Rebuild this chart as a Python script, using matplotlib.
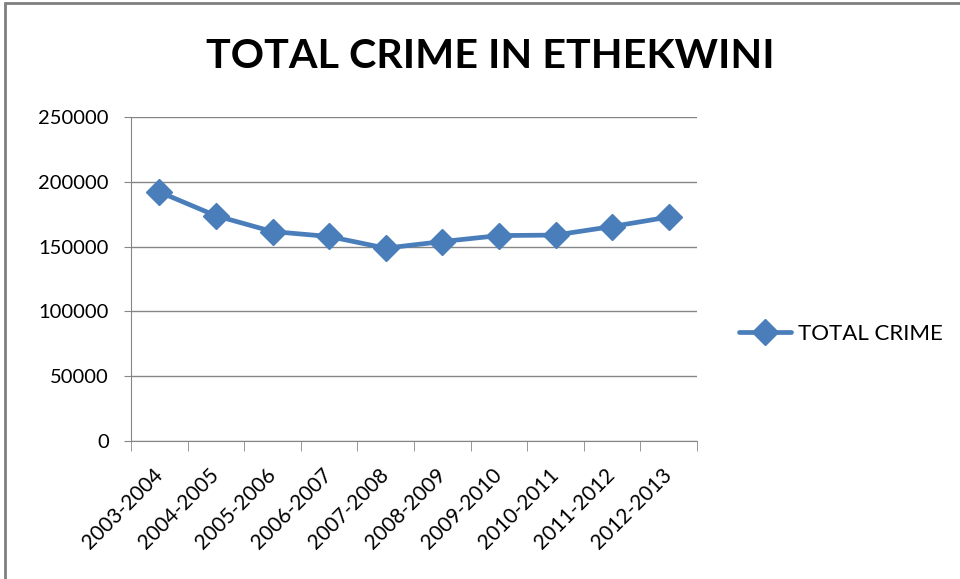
import matplotlib.pyplot as plt
from matplotlib.patches import Rectangle
from matplotlib.ticker import FixedLocator

periods = ['2003-2004', '2004-2005', '2005-2006', '2006-2007', '2007-2008',
           '2008-2009', '2009-2010', '2010-2011', '2011-2012', '2012-2013']
total_crime = [192200, 173800, 161600, 157800, 148800,
               153900, 158500, 158900, 165500, 172800]
y_ticks = [0, 50000, 100000, 150000, 200000, 250000]

plt.rcParams['font.family'] = ['Lato', 'DejaVu Sans']

fig = plt.figure(figsize=(9.6, 5.79), dpi=100)
ax = fig.add_axes([131 / 960, 1 - 441 / 579, (697 - 131) / 960, (441 - 117) / 579])

x = list(range(len(periods)))
line, = ax.plot(x, total_crime, color='#4A7EBB', linewidth=3.4, marker='D',
                markersize=13, label='TOTAL CRIME', solid_capstyle='round')

ax.set_xlim(-0.5, len(periods) - 0.5)
ax.set_ylim(0, 250000)
ax.set_yticks(y_ticks)
ax.set_yticklabels([str(v) for v in y_ticks], fontsize=14.5)
ax.yaxis.grid(True, color='#868686', linewidth=1)
ax.set_axisbelow(True)

ax.set_xticks(x)
ax.set_xticklabels(periods, rotation=45, ha='right', va='center',
                   rotation_mode='anchor', fontsize=15)
ax.xaxis.set_minor_locator(FixedLocator([i - 0.5 for i in range(len(periods) + 1)]))
ax.tick_params(axis='x', which='major', length=0, pad=22)
ax.tick_params(axis='x', which='minor', length=7, color='#868686', direction='out')
ax.tick_params(axis='y', length=5, color='#868686', direction='out', pad=11)

for side in ['top', 'right']:
    ax.spines[side].set_visible(False)
for side in ['left', 'bottom']:
    ax.spines[side].set_color('#868686')

fig.text(490 / 960, 1 - 57 / 579, 'TOTAL CRIME IN ETHEKWINI', ha='center', va='center',
         fontsize=29.7, fontweight='bold')

fig.legend(handles=[line], loc='center left', bbox_to_anchor=(719 / 960, 1 - 334 / 579),
           frameon=False, fontsize=16, handlelength=2.34, handletextpad=0.3)

fig.patches.append(Rectangle((5 / 960, -0.1), 1.2, 1 - 3 / 579 + 0.1, transform=fig.transFigure,
                             fill=False, edgecolor='#7F7F7F', linewidth=2))

fig.savefig('out.png', dpi=100)
